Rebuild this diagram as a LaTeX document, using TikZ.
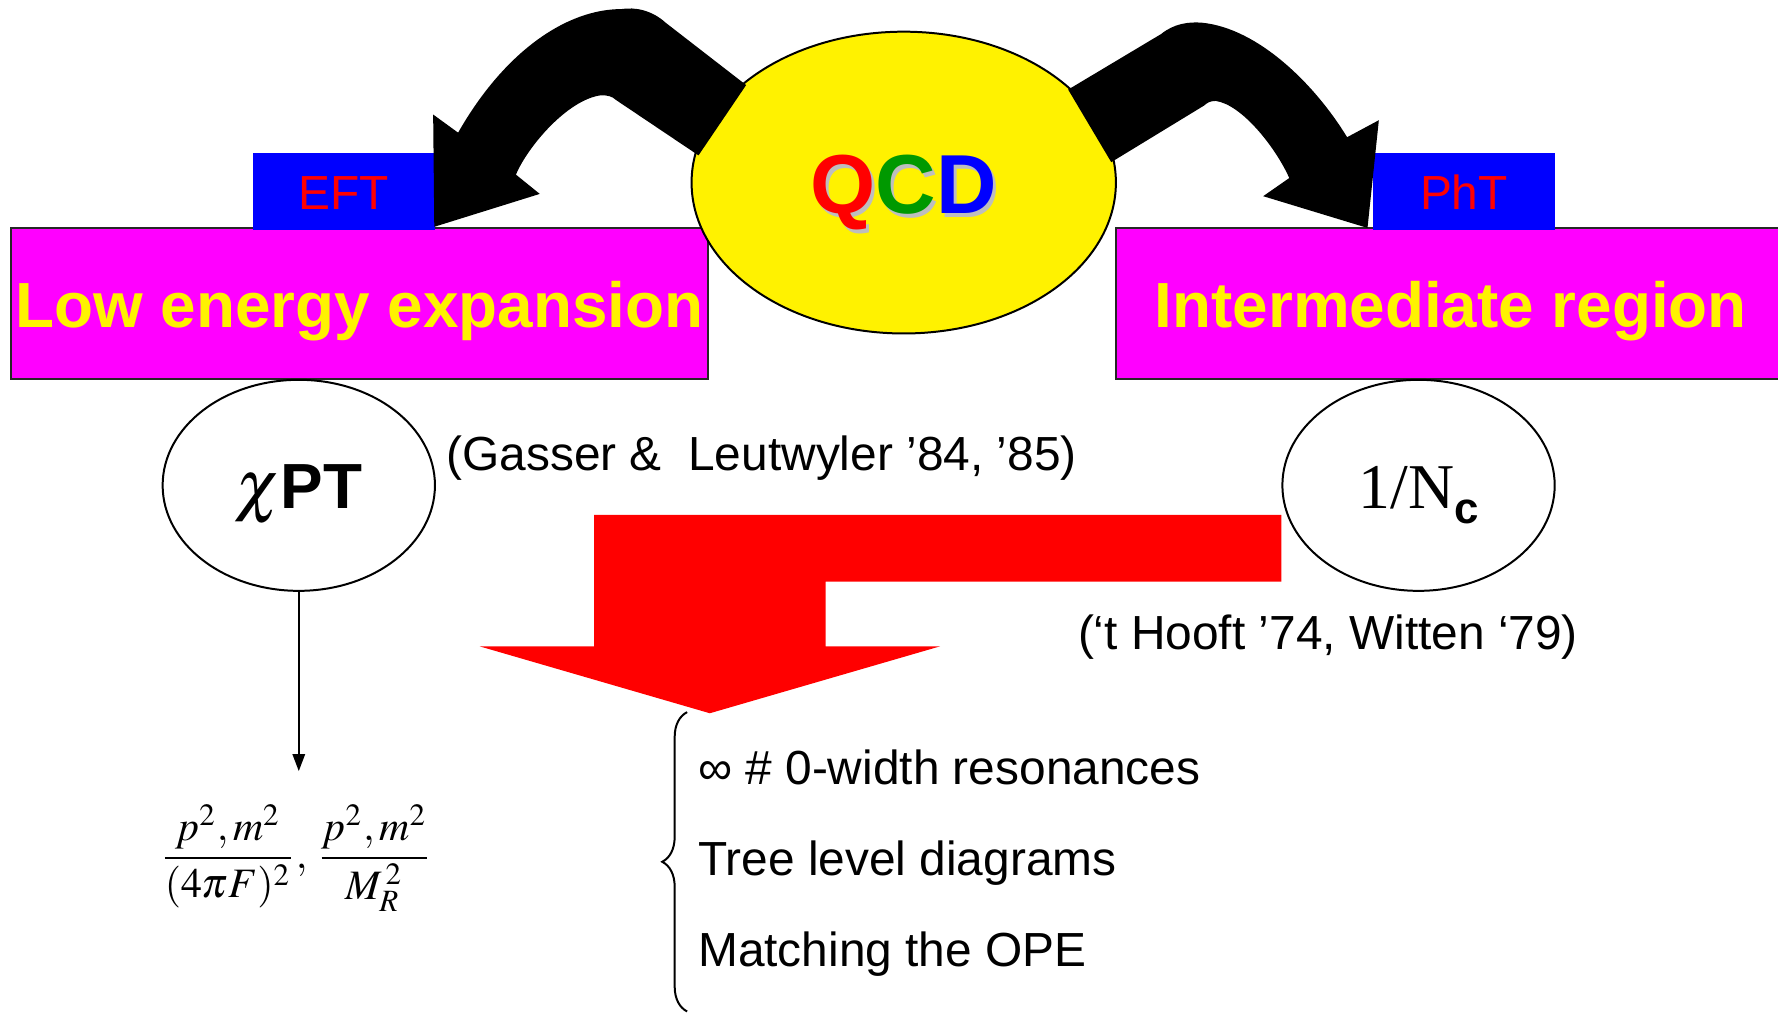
\documentclass[tikz,border=0pt]{standalone}
\usepackage{mathptmx}
\usepackage[no-math]{fontspec}
\setmainfont{Liberation Sans}
\newfontfamily\timesfont{Liberation Serif}
\usepackage{xcolor}
\usepackage{tikz}
\usetikzlibrary{arrows.meta,shapes.geometric,decorations.pathreplacing}
\definecolor{qcdgreen}{RGB}{0,153,0}
\definecolor{shadowgray}{RGB}{190,190,190}
\definecolor{boxmagenta}{RGB}{255,0,255}
\newcommand{\qcdletter}[2]{\makebox[0pt][l]{\hspace{0.025cm}\raisebox{-0.035cm}{\color{shadowgray}#2}}{\color{#1}#2}}

\begin{document}
\begin{tikzpicture}[x=0.01cm,y=-0.01cm,inner sep=0pt,
  region/.style={draw=black!85,line width=0.5pt,fill=boxmagenta,text=yellow,minimum height=1.33cm,
    text height=0.5cm,text depth=0.07cm,font=\fontsize{16}{19}\selectfont\bfseries},
  tag/.style={fill=blue,text=red,minimum width=1.6cm,minimum height=0.68cm,
    text height=0.35cm,text depth=0.04cm,font=\fontsize{12}{14}\selectfont},
  theory/.style={ellipse,draw,line width=0.5pt,minimum width=2.4cm,minimum height=1.86cm,
    text height=0.45cm,text depth=0.05cm,font=\fontsize{16}{19}\selectfont},
  note/.style={anchor=base west,font=\fontsize{12}{14}\selectfont}]
\useasboundingbox (0,0) rectangle (1568,893);

\node[region,minimum width=6.14cm] (low) at (317,267.5) {Low energy expansion};
\node[region,minimum width=5.91cm] (mid) at (1279.5,267.5) {Intermediate region};
\node[tag] (eft) at (303.25,169) {EFT};
\node[tag] (pht) at (1291,169) {PhT};

\node[ellipse,draw,fill=yellow,line width=0.5pt,minimum width=3.74cm,minimum height=2.66cm,
  text height=0.55cm,text depth=0cm,font=\fontsize{21}{25}\selectfont\bfseries] (qcd) at (797,161)
  {\qcdletter{red}{Q}\qcdletter{qcdgreen}{C}\qcdletter{blue}{D}\hspace{0.08cm}};

\fill (658,75) -- (587,20) .. controls (575,9) and (560,6) .. (548,8)
  .. controls (500,8) and (445,45) .. (404,117) -- (382,101) -- (383,200) -- (476,171)
  -- (455,154) .. controls (465,130) and (500,88) .. (530,84)
  .. controls (536,84) and (540,85) .. (543,88) -- (616,137) -- cycle;
\fill (942,79) -- (1024,30) .. controls (1035,21) and (1048,19) .. (1060,20)
  .. controls (1110,25) and (1160,75) .. (1188,121) -- (1216,106) -- (1206,201) -- (1114,173)
  -- (1137,157) .. controls (1125,130) and (1095,92) .. (1072,89)
  .. controls (1067,89) and (1064,91) .. (1062,93) -- (980,143) -- cycle;

\node[theory] (chipt) at (263.5,428) {{\fontsize{17.5}{20}\selectfont$\chi$}\textbf{PT}\hspace{0.08cm}};
\node[theory] (nc) at (1251,428) {{\timesfont 1/N}\raisebox{-0.14cm}{\fontsize{11}{13}\selectfont\bfseries c}};

\node[note] (gasser) at (393,414.5) {(Gasser \&~ Leutwyler ’84, ’85)};
\node[note] (hooft) at (950,573) {(‘t Hooft ’74, Witten ‘79)};

\fill[red] (nc.west |- 0,454) -- (524,454) -- (524,570) -- (423,570) -- (626,629)
  -- (829,570) -- (728,570) -- (728,513) -- (nc.west |- 0,513) -- cycle;

\coordinate (lowtip) at (263.5,680);
\draw[-{Triangle[width=0.11cm,length=0.15cm]},line width=0.4pt] (chipt.south) -- (lowtip);
\node[anchor=base,font=\fontsize{10.5}{13}\selectfont] (scales) at (261,766)
  {$\displaystyle\frac{p^2,m^2}{(4\pi F)^2},\,\frac{p^2,m^2}{M_R^{\,2}}$};

\coordinate (bracetop) at (606,628);
\coordinate (bracebot) at (606,892);
\draw[decorate,decoration={brace,amplitude=0.22cm},line width=0.5pt] (bracebot) -- (bracetop);

\node[note] (widths) at (615,692) {∞ \# 0-width resonances};
\node[note] (trees) at (615,772) {Tree level diagrams};
\node[note] (ope) at (615,852) {Matching the OPE};
\end{tikzpicture}
\end{document}
